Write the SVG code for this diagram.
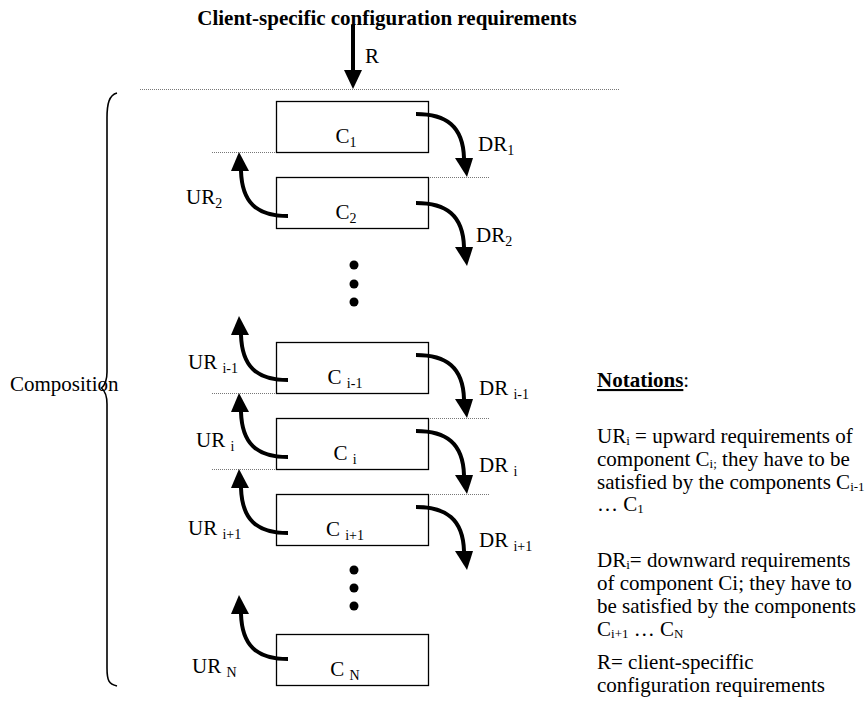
<svg xmlns="http://www.w3.org/2000/svg" width="868" height="706" viewBox="0 0 868 706">
  <style>
    text { font-family: "Liberation Serif", "Times New Roman", serif; font-size: 21px; fill: #000; }
    .title { font-weight: bold; }
    .sub { font-size: 14px; }
    .nsub { font-size: 13px; }
    .box { fill: #fff; stroke: #000; stroke-width: 1.3; }
    .dot-line { stroke: #777; stroke-width: 1; stroke-dasharray: 1 1; fill: none; }
    .shaft { fill: none; stroke: #000; stroke-width: 4; }
    .head { fill: #000; }
    .brace { fill: none; stroke: #000; stroke-width: 1.6; }
  </style>

  <!-- heading and incoming requirement R -->
  <g id="client-requirements">
    <text class="title" x="387" y="25" text-anchor="middle">Client-specific configuration requirements</text>
    <line class="shaft" x1="353" y1="25" x2="353" y2="71"/>
    <polygon class="head" points="344,70 362,70 353,89"/>
    <text x="365" y="63">R</text>
  </g>

  <!-- dotted boundaries between layers -->
  <g id="boundaries">
    <line class="dot-line" x1="140" y1="89.5" x2="620" y2="89.5"/>
    <line class="dot-line" x1="212" y1="152.5" x2="276" y2="152.5"/>
    <line class="dot-line" x1="428" y1="177.5" x2="490" y2="177.5"/>
    <line class="dot-line" x1="212" y1="393.5" x2="276" y2="393.5"/>
    <line class="dot-line" x1="428" y1="418.5" x2="490" y2="418.5"/>
    <line class="dot-line" x1="212" y1="469.5" x2="276" y2="469.5"/>
    <line class="dot-line" x1="428" y1="494.5" x2="490" y2="494.5"/>
  </g>

  <!-- composition brace -->
  <g id="composition">
    <path class="brace" d="M117,93 C109,95 107,104 107,118 L107,372 C107,381 105,385 101.5,388 C105,391 107,395 107,404 L107,668 C107,681 109,684 117,686"/>
    <text x="10" y="391">Composition</text>
  </g>

  <!-- components -->
  <g id="c1">
    <rect class="box" x="276.5" y="101.5" width="152" height="51"/>
    <text x="346" y="143" text-anchor="middle">C<tspan class="sub" dy="4">1</tspan></text>
  </g>
  <g id="c2">
    <rect class="box" x="276.5" y="177.5" width="152" height="51"/>
    <text x="346" y="219" text-anchor="middle">C<tspan class="sub" dy="4">2</tspan></text>
  </g>
  <g id="c-i-1">
    <rect class="box" x="276.5" y="342.5" width="152" height="51"/>
    <text x="345" y="384" text-anchor="middle">C <tspan class="sub" dy="4">i-1</tspan></text>
  </g>
  <g id="c-i">
    <rect class="box" x="276.5" y="418.5" width="152" height="51"/>
    <text x="345" y="460" text-anchor="middle">C <tspan class="sub" dy="4">i</tspan></text>
  </g>
  <g id="c-i+1">
    <rect class="box" x="276.5" y="494.5" width="152" height="51"/>
    <text x="345" y="536" text-anchor="middle">C <tspan class="sub" dy="4">i+1</tspan></text>
  </g>
  <g id="c-n">
    <rect class="box" x="276.5" y="634.5" width="152" height="51"/>
    <text x="345" y="676" text-anchor="middle">C <tspan class="sub" dy="4">N</tspan></text>
  </g>

  <!-- ellipsis dots -->
  <g id="ellipsis-upper">
    <circle cx="354" cy="265" r="4.5"/>
    <circle cx="354" cy="284" r="4.5"/>
    <circle cx="354" cy="302" r="4.5"/>
  </g>
  <g id="ellipsis-lower">
    <circle cx="354" cy="570" r="4.5"/>
    <circle cx="354" cy="588" r="4.5"/>
    <circle cx="354" cy="606" r="4.5"/>
  </g>

  <!-- requirement arrows -->
  <g id="connectors">
    <!-- downward requirements -->
    <path class="shaft" d="M416,114 C446,114 463,126 464,158"/>
    <polygon class="head" points="455,158 473,158 467,177"/>
    <path class="shaft" d="M416,203 C446,203 463,215 464,247"/>
    <polygon class="head" points="455,247 473,247 467,266"/>
    <path class="shaft" d="M416,355 C446,355 463,367 464,399"/>
    <polygon class="head" points="455,399 473,399 467,418"/>
    <path class="shaft" d="M416,431 C446,431 463,443 464,475"/>
    <polygon class="head" points="455,475 473,475 467,494"/>
    <path class="shaft" d="M416,507 C446,507 463,519 464,551"/>
    <polygon class="head" points="455,551 473,551 467,570"/>
    <!-- upward requirements -->
    <path class="shaft" d="M288,216 C256,216 242,202 241,171"/>
    <polygon class="head" points="231,171 249,171 239,152"/>
    <path class="shaft" d="M288,380 C256,380 242,366 241,335"/>
    <polygon class="head" points="231,335 249,335 239,316"/>
    <path class="shaft" d="M288,457 C256,457 242,443 241,412"/>
    <polygon class="head" points="231,412 249,412 239,393"/>
    <path class="shaft" d="M288,533 C256,533 242,519 241,488"/>
    <polygon class="head" points="231,488 249,488 239,469"/>
    <path class="shaft" d="M288,659 C256,659 242,645 241,614"/>
    <polygon class="head" points="231,614 249,614 239,595"/>
  </g>

  <!-- arrow labels -->
  <g id="labels">
    <text x="478" y="151">DR<tspan class="sub" dy="4">1</tspan></text>
    <text x="476" y="242">DR<tspan class="sub" dy="4">2</tspan></text>
    <text x="479" y="395">DR <tspan class="sub" dy="4">i-1</tspan></text>
    <text x="479" y="472">DR <tspan class="sub" dy="4">i</tspan></text>
    <text x="479" y="547">DR <tspan class="sub" dy="4">i+1</tspan></text>
    <text x="186" y="204">UR<tspan class="sub" dy="4">2</tspan></text>
    <text x="188" y="369">UR <tspan class="sub" dy="4">i-1</tspan></text>
    <text x="196" y="447">UR <tspan class="sub" dy="4">i</tspan></text>
    <text x="188" y="535">UR <tspan class="sub" dy="4">i+1</tspan></text>
    <text x="192" y="673">UR <tspan class="sub" dy="4">N</tspan></text>
  </g>

  <!-- notation key -->
  <g id="notations">
    <text x="597" y="387"><tspan font-weight="bold" text-decoration="underline">Notations</tspan>:</text>
    <text x="597" y="443">UR<tspan class="nsub" dy="2">i</tspan><tspan dy="-2"> = upward requirements of</tspan></text>
    <text x="597" y="466">component C<tspan class="nsub" dy="2">i;</tspan><tspan dy="-2"> they have to be</tspan></text>
    <text x="597" y="489">satisfied by the components C<tspan class="nsub" dy="2">i-1</tspan></text>
    <text x="597" y="511">… C<tspan class="nsub" dy="2">1</tspan></text>
    <text x="597" y="567">DR<tspan class="nsub" dy="2">i</tspan><tspan dy="-2">= downward requirements</tspan></text>
    <text x="597" y="590">of component Ci; they have to</text>
    <text x="597" y="613">be satisfied by the components</text>
    <text x="597" y="636">C<tspan class="nsub" dy="2">i+1</tspan><tspan dy="-2"> … C</tspan><tspan class="nsub" dy="2">N</tspan></text>
    <text x="597" y="669">R= client-speciffic</text>
    <text x="597" y="692">configuration requirements</text>
  </g>
</svg>
